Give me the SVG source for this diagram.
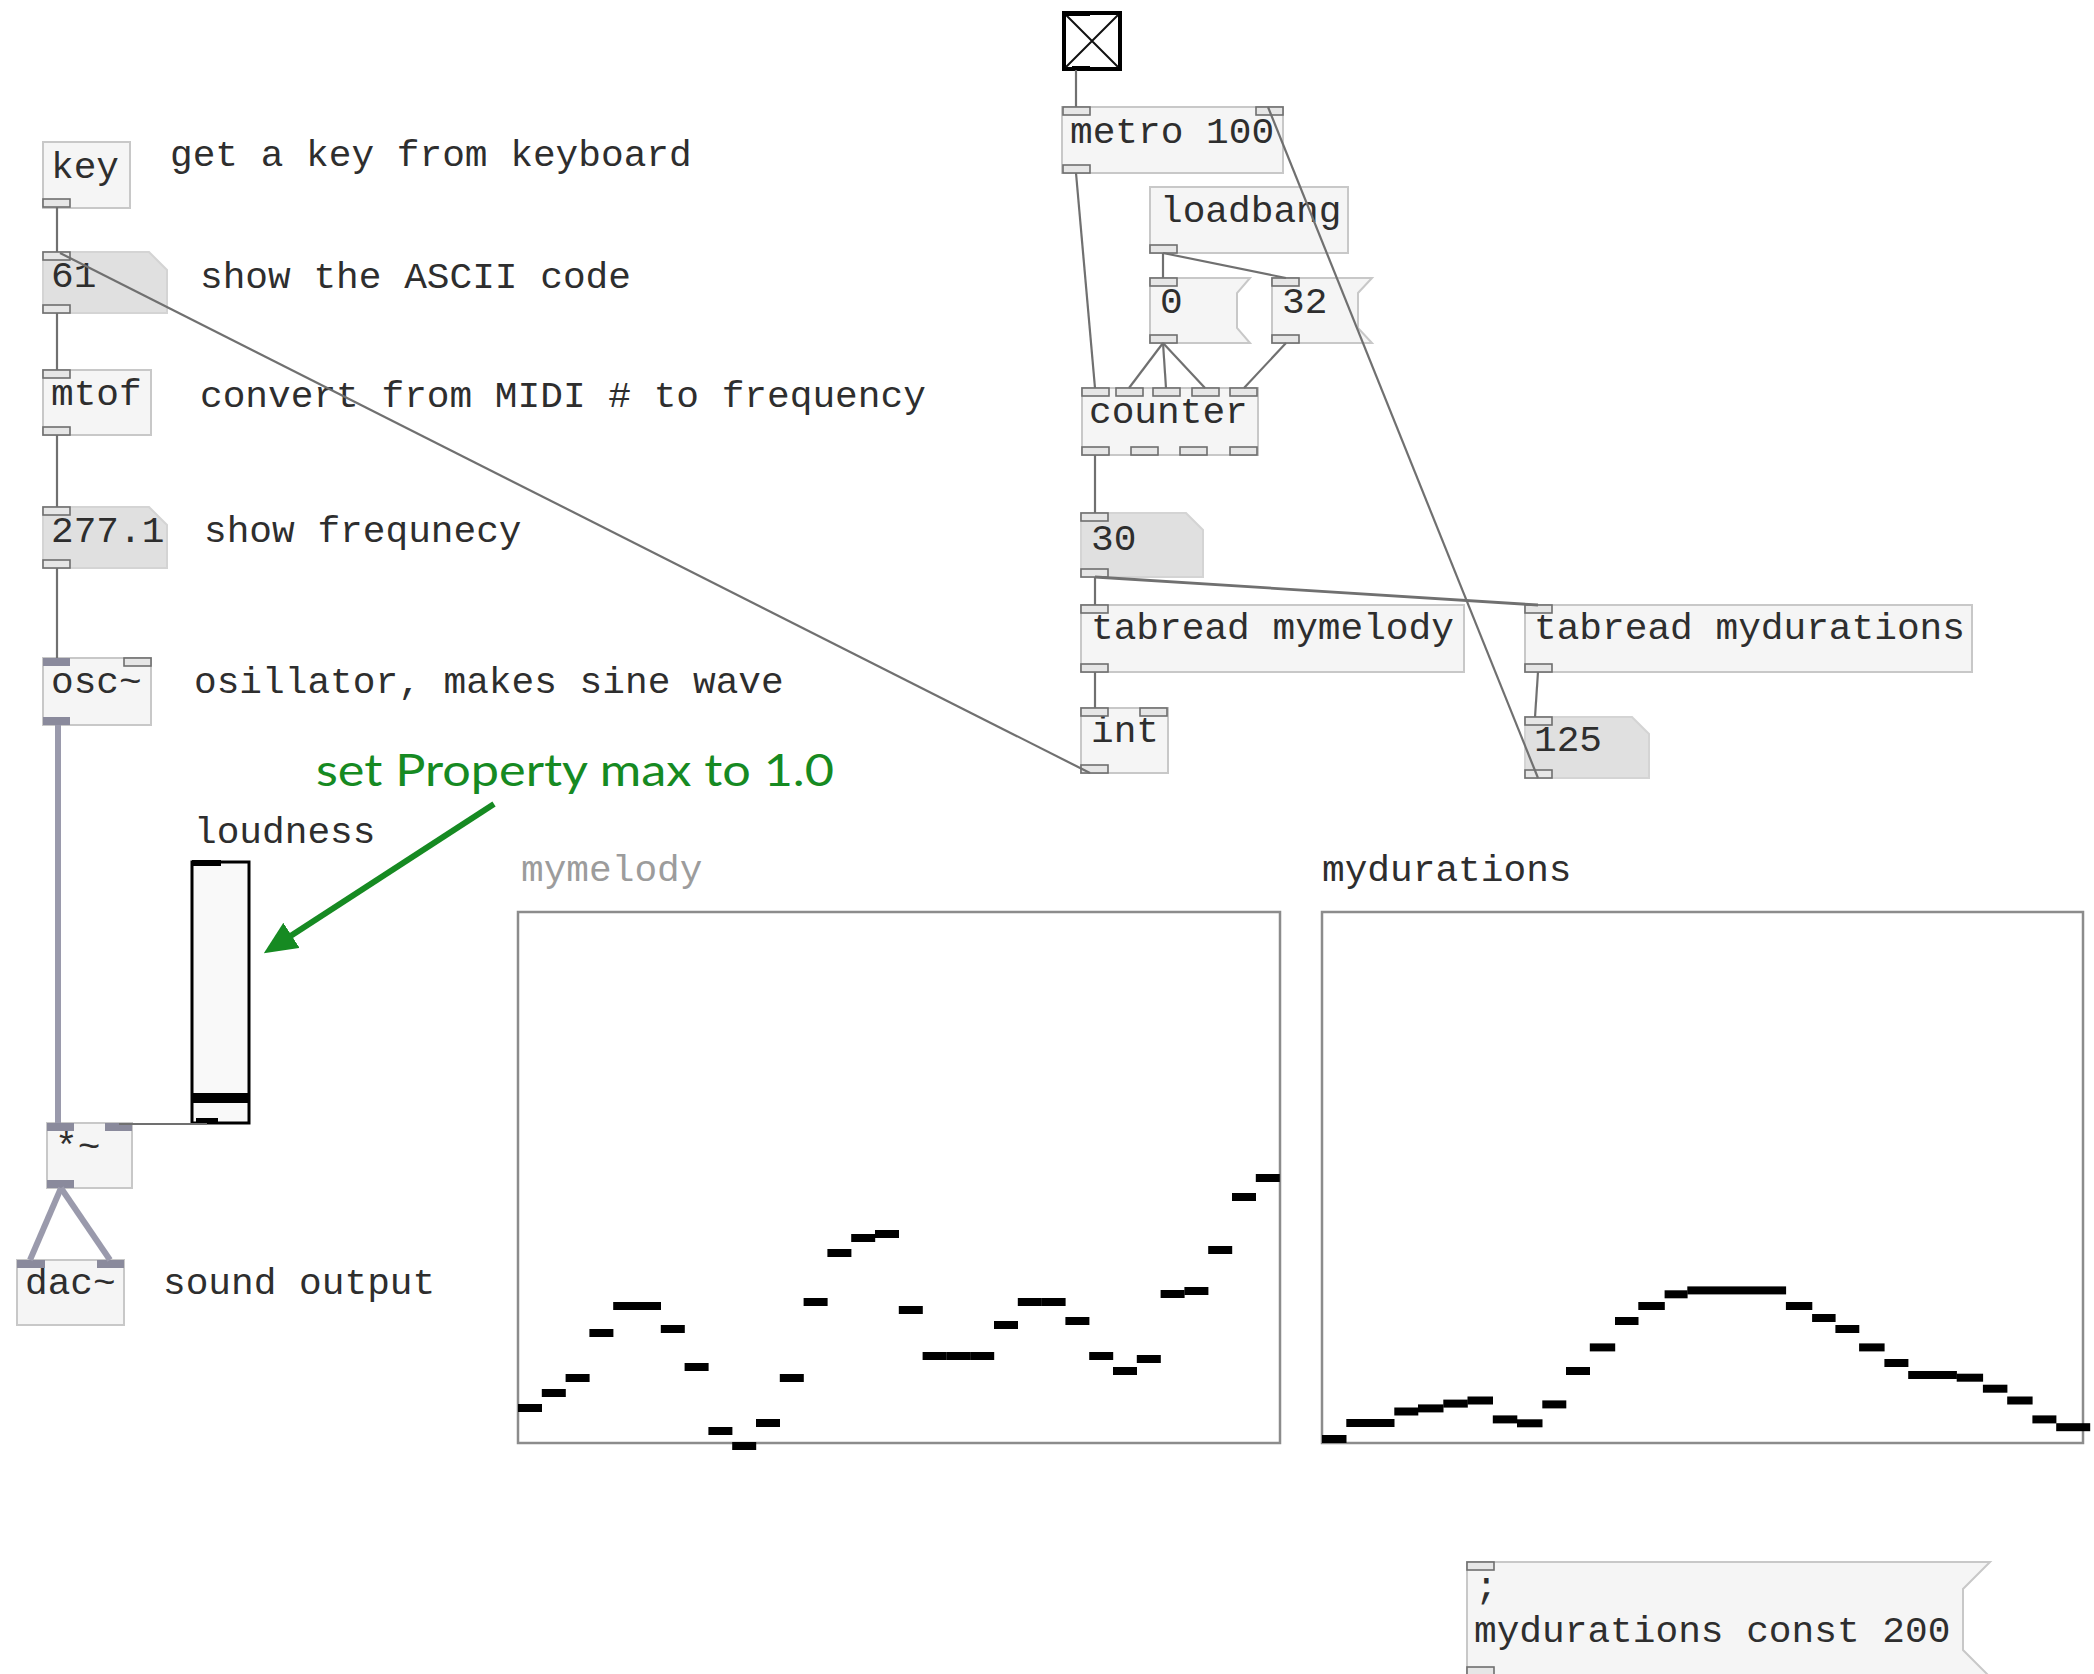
<svg xmlns="http://www.w3.org/2000/svg" width="2094" height="1674" viewBox="0 0 2094 1674">
<defs>
<style>
.obj{fill:#f5f5f5;stroke:#c8c8c8;stroke-width:2}
.num{fill:#e0e0e0;stroke:#d4d4d4;stroke-width:2}
.io{fill:#e6e6e6;stroke:#6f6f6f;stroke-width:1.6}
.sio{fill:#8a8a9c;stroke:none}
.t{font-family:"Liberation Mono","DejaVu Sans Mono",monospace;font-size:37.8px;fill:#2e2e2e}
.gray{fill:#9c9c9c}
.c{stroke:#707070;stroke-width:2.2;fill:none}
.s{stroke:#9a9aac;stroke-width:6;fill:none}
.bar{fill:#000}
.frame{fill:#fff;stroke:#8c8c8c;stroke-width:2.5}
.note{font-family:Lato,"Open Sans","Noto Sans",sans-serif;font-size:45px;fill:#168a22}
</style>
<marker id="ah" viewBox="0 0 5.5 5" refX="0.5" refY="2.5" markerWidth="5.5" markerHeight="5" orient="auto" markerUnits="strokeWidth">
<path d="M0,0 L5.5,2.5 L0,5 z" fill="#168a22"/>
</marker>
</defs>
<rect width="2094" height="1674" fill="#fff"/>

<!-- left column -->
<g id="key">
<rect class="obj" x="43" y="142" width="87" height="66"/>
<text class="t" x="51" y="178">key</text>
<rect class="io" x="43" y="199" width="27" height="8"/>
</g>
<g id="num61">
<polygon class="num" points="43,252 149,252 167,270 167,313 43,313"/>
<text class="t" x="51" y="287">61</text>
<rect class="io" x="43" y="252" width="27" height="8"/>
<rect class="io" x="43" y="305" width="27" height="8"/>
</g>
<g id="mtof">
<rect class="obj" x="43" y="370" width="108" height="65"/>
<text class="t" x="51" y="405">mtof</text>
<rect class="io" x="43" y="370" width="27" height="8"/>
<rect class="io" x="43" y="427" width="27" height="8"/>
</g>
<g id="num277">
<polygon class="num" points="43,507 149,507 167,525 167,568 43,568"/>
<text class="t" x="51" y="542">277.1</text>
<rect class="io" x="43" y="507" width="27" height="8"/>
<rect class="io" x="43" y="560" width="27" height="8"/>
</g>
<g id="osc">
<rect class="obj" x="43" y="658" width="108" height="67"/>
<text class="t" x="51" y="693">osc~</text>
<rect class="sio" x="43" y="658" width="27" height="8"/>
<rect class="io" x="124" y="658" width="27" height="8"/>
<rect class="sio" x="43" y="717" width="27" height="8"/>
</g>
<g id="slider">
<text class="t" x="194" y="843">loudness</text>
<rect x="192" y="862" width="57" height="261" fill="#f9f9f9" stroke="#000" stroke-width="3"/>
<rect x="192" y="860" width="29" height="6" fill="#000"/>
<rect x="192" y="1093" width="57" height="10" fill="#000"/>
<rect x="196" y="1118" width="22" height="6" fill="#000"/>
</g>
<g id="mul">
<rect class="obj" x="47" y="1123" width="85" height="65"/>
<text class="t" x="55" y="1158">*~</text>
<rect class="sio" x="47" y="1123" width="27" height="8"/>
<rect class="sio" x="105" y="1123" width="27" height="8"/>
<rect class="sio" x="47" y="1180" width="27" height="8"/>
</g>
<g id="dac">
<rect class="obj" x="17" y="1260" width="107" height="65"/>
<text class="t" x="25" y="1294">dac~</text>
<rect class="sio" x="17" y="1260" width="28" height="8"/>
<rect class="sio" x="97" y="1260" width="27" height="8"/>
</g>

<!-- comments -->
<g id="comments">
<text class="t" x="170" y="166">get a key from keyboard</text>
<text class="t" x="200" y="288">show the ASCII code</text>
<text class="t" x="200" y="407">convert from MIDI # to frequency</text>
<text class="t" x="204" y="542">show frequnecy</text>
<text class="t" x="194" y="693">osillator, makes sine wave</text>
<text class="t" x="163" y="1294">sound output</text>
</g>

<!-- top right -->
<g id="toggle">
<rect x="1064" y="13" width="56" height="56" fill="#fff" stroke="#000" stroke-width="4"/>
<path d="M1066,15 L1118,67 M1118,15 L1066,67" stroke="#111" stroke-width="2"/>
<rect x="1062" y="11" width="28" height="5" fill="#000"/>
<rect x="1072" y="66" width="18" height="5" fill="#000"/>
</g>
<g id="metro">
<rect class="obj" x="1062" y="107" width="221" height="66"/>
<text class="t" x="1070" y="143">metro 100</text>
<rect class="io" x="1063" y="107" width="27" height="8"/>
<rect class="io" x="1256" y="107" width="27" height="8"/>
<rect class="io" x="1063" y="165" width="27" height="8"/>
</g>
<g id="loadbang">
<rect class="obj" x="1150" y="187" width="198" height="66"/>
<text class="t" x="1160" y="222">loadbang</text>
<rect class="io" x="1150" y="245" width="27" height="8"/>
</g>
<g id="msg0">
<polygon class="obj" points="1150,278 1250,278 1237,293 1237,328 1250,343 1150,343"/>
<text class="t" x="1160" y="313">0</text>
<rect class="io" x="1150" y="278" width="27" height="8"/>
<rect class="io" x="1150" y="335" width="27" height="8"/>
</g>
<g id="msg32">
<polygon class="obj" points="1272,278 1372,278 1358,293 1358,328 1372,343 1272,343"/>
<text class="t" x="1282" y="313">32</text>
<rect class="io" x="1272" y="278" width="27" height="8"/>
<rect class="io" x="1272" y="335" width="27" height="8"/>
</g>
<g id="counter">
<rect class="obj" x="1082" y="388" width="176" height="67"/>
<text class="t" x="1089" y="423">counter</text>
<rect class="io" x="1082" y="388" width="27" height="8"/>
<rect class="io" x="1116" y="388" width="27" height="8"/>
<rect class="io" x="1153" y="388" width="27" height="8"/>
<rect class="io" x="1192" y="388" width="27" height="8"/>
<rect class="io" x="1230" y="388" width="27" height="8"/>
<rect class="io" x="1082" y="447" width="27" height="8"/>
<rect class="io" x="1131" y="447" width="27" height="8"/>
<rect class="io" x="1180" y="447" width="27" height="8"/>
<rect class="io" x="1230" y="447" width="27" height="8"/>
</g>
<g id="num30">
<polygon class="num" points="1081,513 1186,513 1203,530 1203,577 1081,577"/>
<text class="t" x="1091" y="550">30</text>
<rect class="io" x="1081" y="513" width="27" height="8"/>
<rect class="io" x="1081" y="569" width="27" height="8"/>
</g>
<g id="tabmel">
<rect class="obj" x="1081" y="605" width="383" height="67"/>
<text class="t" x="1091" y="639">tabread mymelody</text>
<rect class="io" x="1081" y="605" width="27" height="8"/>
<rect class="io" x="1081" y="664" width="27" height="8"/>
</g>
<g id="tabdur">
<rect class="obj" x="1525" y="605" width="447" height="67"/>
<text class="t" x="1534" y="639">tabread mydurations</text>
<rect class="io" x="1525" y="605" width="27" height="8"/>
<rect class="io" x="1525" y="664" width="27" height="8"/>
</g>
<g id="int">
<rect class="obj" x="1081" y="708" width="87" height="65"/>
<text class="t" x="1091" y="742">int</text>
<rect class="io" x="1081" y="708" width="27" height="8"/>
<rect class="io" x="1140" y="708" width="27" height="8"/>
<rect class="io" x="1081" y="765" width="27" height="8"/>
</g>
<g id="num125">
<polygon class="num" points="1525,717 1632,717 1649,734 1649,778 1525,778"/>
<text class="t" x="1534" y="751">125</text>
<rect class="io" x="1525" y="717" width="27" height="8"/>
<rect class="io" x="1525" y="770" width="27" height="8"/>
</g>

<!-- arrays -->
<g id="mymelody">
<text class="t gray" x="521" y="881">mymelody</text>
<rect class="frame" x="518" y="912" width="762" height="531"/>
<g class="bar">
<rect x="518" y="1404" width="24" height="8"/>
<rect x="541.8" y="1389" width="24" height="8"/>
<rect x="565.6" y="1374" width="24" height="8"/>
<rect x="589.4" y="1329" width="24" height="8"/>
<rect x="613.2" y="1302" width="24" height="8"/>
<rect x="637" y="1302" width="24" height="8"/>
<rect x="660.8" y="1325" width="24" height="8"/>
<rect x="684.6" y="1363" width="24" height="8"/>
<rect x="708.4" y="1427" width="24" height="8"/>
<rect x="732.2" y="1442" width="24" height="8"/>
<rect x="756" y="1419" width="24" height="8"/>
<rect x="779.8" y="1374" width="24" height="8"/>
<rect x="803.6" y="1298" width="24" height="8"/>
<rect x="827.4" y="1249" width="24" height="8"/>
<rect x="851.2" y="1234" width="24" height="8"/>
<rect x="875" y="1230" width="24" height="8"/>
<rect x="898.8" y="1306" width="24" height="8"/>
<rect x="922.6" y="1352" width="24" height="8"/>
<rect x="946.4" y="1352" width="24" height="8"/>
<rect x="970.2" y="1352" width="24" height="8"/>
<rect x="994" y="1321" width="24" height="8"/>
<rect x="1017.8" y="1298" width="24" height="8"/>
<rect x="1041.6" y="1298" width="24" height="8"/>
<rect x="1065.4" y="1317" width="24" height="8"/>
<rect x="1089.2" y="1352" width="24" height="8"/>
<rect x="1113" y="1367" width="24" height="8"/>
<rect x="1136.8" y="1355" width="24" height="8"/>
<rect x="1160.6" y="1290" width="24" height="8"/>
<rect x="1184.4" y="1287" width="24" height="8"/>
<rect x="1208.2" y="1246" width="24" height="8"/>
<rect x="1232" y="1193" width="24" height="8"/>
<rect x="1255.8" y="1174" width="24" height="8"/>
</g>
</g>
<g id="mydurations">
<text class="t" x="1322" y="881">mydurations</text>
<rect class="frame" x="1322" y="912" width="761" height="531"/>
<g class="bar">
<rect x="1322" y="1435" width="24.5" height="8"/>
<rect x="1346.3" y="1419" width="48.2" height="8"/>
<rect x="1394.3" y="1407.5" width="24" height="8"/>
<rect x="1418" y="1404.4" width="25.5" height="8"/>
<rect x="1443.3" y="1399.6" width="24.5" height="8"/>
<rect x="1467.5" y="1396.5" width="25.5" height="8"/>
<rect x="1492.8" y="1415.4" width="24.5" height="8"/>
<rect x="1517" y="1419.3" width="25.5" height="8"/>
<rect x="1542.3" y="1400.4" width="24" height="8"/>
<rect x="1566" y="1367" width="24" height="8"/>
<rect x="1589.8" y="1343.4" width="25.4" height="8"/>
<rect x="1615" y="1317" width="23.5" height="8"/>
<rect x="1638.3" y="1302" width="26.5" height="8"/>
<rect x="1664.6" y="1290.3" width="23" height="8"/>
<rect x="1687.3" y="1286.4" width="98.8" height="8"/>
<rect x="1785.9" y="1302" width="26.4" height="8"/>
<rect x="1812.1" y="1314" width="23.5" height="8"/>
<rect x="1835.4" y="1325" width="23.9" height="8"/>
<rect x="1859.1" y="1343.4" width="25.5" height="8"/>
<rect x="1884.4" y="1359" width="24" height="8"/>
<rect x="1908.2" y="1371" width="48.7" height="8"/>
<rect x="1956.7" y="1373.7" width="26.4" height="8"/>
<rect x="1982.9" y="1384.7" width="24.5" height="8"/>
<rect x="2007.2" y="1396.5" width="25.4" height="8"/>
<rect x="2032.4" y="1415.4" width="24" height="8"/>
<rect x="2056.2" y="1423.2" width="34" height="8"/>
</g>
</g>

<!-- bottom message -->
<g id="msgconst">
<polygon class="obj" points="1467,1562 1990,1562 1963,1589 1963,1650 1990,1677 1467,1677"/>
<text class="t" x="1475" y="1598">;</text>
<text class="t" x="1474" y="1642">mydurations const 200</text>
<rect class="io" x="1467" y="1562" width="27" height="8"/>
<rect class="io" x="1467" y="1667" width="27" height="8"/>
</g>

<!-- connectors -->
<g id="connectors">
<path class="c" d="M57,207 L57,252"/>
<path class="c" d="M57,313 L57,370"/>
<path class="c" d="M57,435 L57,507"/>
<path class="c" d="M57,568 L57,658"/>
<path class="c" d="M1090,773 L60,253"/>
<path class="c" d="M1076,70 L1076,107"/>
<path class="c" d="M1076,173 L1095,388"/>
<path class="c" d="M1163,253 L1163,278"/>
<path class="c" d="M1163,253 L1286,278"/>
<path class="c" d="M1163,343 L1129,388"/>
<path class="c" d="M1163,343 L1166,388"/>
<path class="c" d="M1163,343 L1205,388"/>
<path class="c" d="M1286,343 L1244,388"/>
<path class="c" d="M1095,455 L1095,513"/>
<path class="c" d="M1095,577 L1095,605"/>
<path class="c" d="M1095,577 L1538,605" style="stroke-width:2.8"/>
<path class="c" d="M1095,672 L1095,708"/>
<path class="c" d="M1538,672 L1535,717"/>
<path class="c" d="M1538,778 L1268,107"/>
<path class="c" d="M207,1124 L119,1124"/>
<path class="s" d="M58,725 L58,1123"/>
<path class="s" d="M61,1188 L30,1260"/>
<path class="s" d="M61,1188 L110,1260"/>
</g>

<!-- annotation -->
<g id="annotation">
<text class="note" x="316" y="786" textLength="518" lengthAdjust="spacingAndGlyphs">set Property max to 1.0</text>
<path d="M494,804 L289,937" stroke="#168a22" stroke-width="6" fill="none" marker-end="url(#ah)"/>
</g>
</svg>
